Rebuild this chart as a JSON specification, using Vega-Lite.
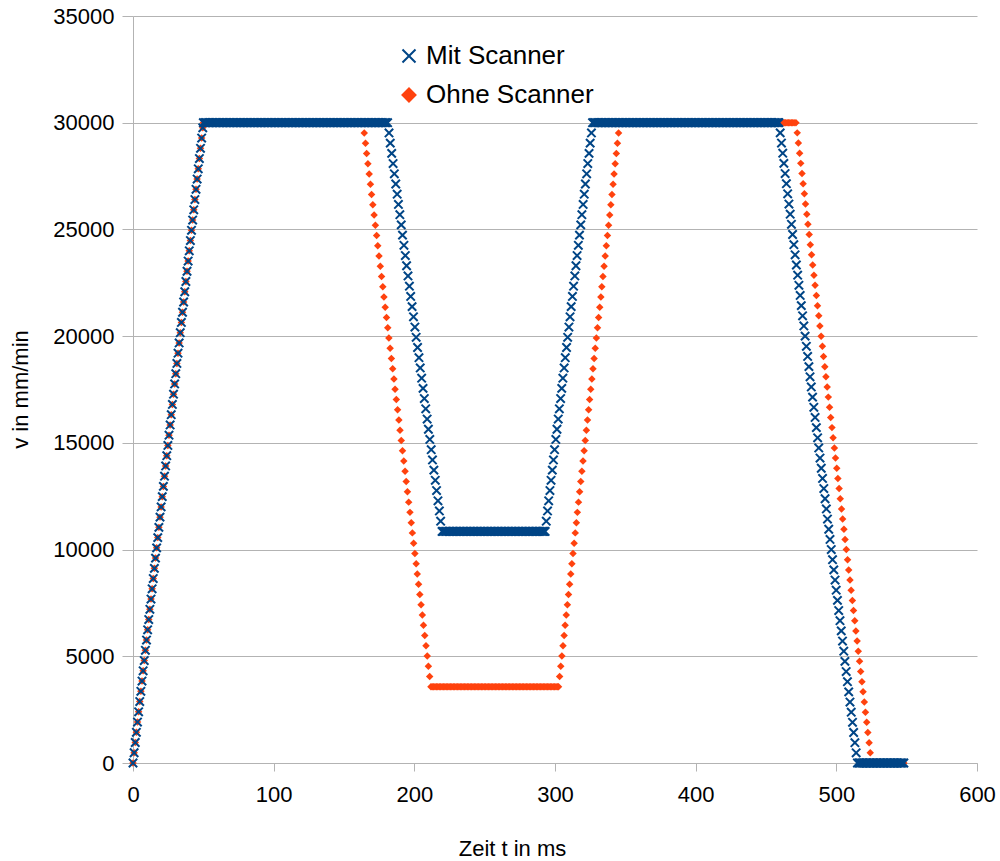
{
"$schema":"https://vega.github.io/schema/vega-lite/v6.json",
"width":844,"height":747,
"autosize":{"type":"none"},
"padding":{"left":133,"top":16,"right":23,"bottom":98},
"background":"white",
"config":{"font":"Liberation Sans","view":{"stroke":null}},
"datasets":{
"common":[{"t":0,"v":0},{"t":0.8,"v":480},{"t":1.6,"v":960},{"t":2.4,"v":1440},{"t":3.2,"v":1920},{"t":4,"v":2400},{"t":4.8,"v":2880},{"t":5.6,"v":3360},{"t":6.4,"v":3840},{"t":7.2,"v":4320},{"t":8,"v":4800},{"t":8.8,"v":5280},{"t":9.6,"v":5760},{"t":10.4,"v":6240},{"t":11.2,"v":6720},{"t":12,"v":7200},{"t":12.8,"v":7680},{"t":13.6,"v":8160},{"t":14.4,"v":8640},{"t":15.2,"v":9120},{"t":16,"v":9600},{"t":16.8,"v":10080},{"t":17.6,"v":10560},{"t":18.4,"v":11040},{"t":19.2,"v":11520},{"t":20,"v":12000},{"t":20.8,"v":12480},{"t":21.6,"v":12960},{"t":22.4,"v":13440},{"t":23.2,"v":13920},{"t":24,"v":14400},{"t":24.8,"v":14880},{"t":25.6,"v":15360},{"t":26.4,"v":15840},{"t":27.2,"v":16320},{"t":28,"v":16800},{"t":28.8,"v":17280},{"t":29.6,"v":17760},{"t":30.4,"v":18240},{"t":31.2,"v":18720},{"t":32,"v":19200},{"t":32.8,"v":19680},{"t":33.6,"v":20160},{"t":34.4,"v":20640},{"t":35.2,"v":21120},{"t":36,"v":21600},{"t":36.8,"v":22080},{"t":37.6,"v":22560},{"t":38.4,"v":23040},{"t":39.2,"v":23520},{"t":40,"v":24000},{"t":40.8,"v":24480},{"t":41.6,"v":24960},{"t":42.4,"v":25440},{"t":43.2,"v":25920},{"t":44,"v":26400},{"t":44.8,"v":26880},{"t":45.6,"v":27360},{"t":46.4,"v":27840},{"t":47.2,"v":28320},{"t":48,"v":28800},{"t":48.8,"v":29280},{"t":49.6,"v":29760},
{"t":50,"v":30000},{"t":51,"v":30000},{"t":52,"v":30000},{"t":53,"v":30000},{"t":54,"v":30000},{"t":55,"v":30000},{"t":56,"v":30000},{"t":57,"v":30000},{"t":58,"v":30000},{"t":59,"v":30000},{"t":60,"v":30000},{"t":61,"v":30000},{"t":62,"v":30000},{"t":63,"v":30000},{"t":64,"v":30000},{"t":65,"v":30000},{"t":66,"v":30000},{"t":67,"v":30000},{"t":68,"v":30000},{"t":69,"v":30000},{"t":70,"v":30000},{"t":71,"v":30000},{"t":72,"v":30000},{"t":73,"v":30000},{"t":74,"v":30000},{"t":75,"v":30000},{"t":76,"v":30000},{"t":77,"v":30000},{"t":78,"v":30000},{"t":79,"v":30000},{"t":80,"v":30000},{"t":81,"v":30000},{"t":82,"v":30000},{"t":83,"v":30000},{"t":84,"v":30000},{"t":85,"v":30000},{"t":86,"v":30000},{"t":87,"v":30000},{"t":88,"v":30000},{"t":89,"v":30000},{"t":90,"v":30000},{"t":91,"v":30000},{"t":92,"v":30000},{"t":93,"v":30000},{"t":94,"v":30000},{"t":95,"v":30000},{"t":96,"v":30000},{"t":97,"v":30000},{"t":98,"v":30000},{"t":99,"v":30000},{"t":100,"v":30000},{"t":101,"v":30000},{"t":102,"v":30000},{"t":103,"v":30000},{"t":104,"v":30000},{"t":105,"v":30000},{"t":106,"v":30000},{"t":107,"v":30000},{"t":108,"v":30000},{"t":109,"v":30000},{"t":110,"v":30000},{"t":111,"v":30000},{"t":112,"v":30000},{"t":113,"v":30000},{"t":114,"v":30000},{"t":115,"v":30000},{"t":116,"v":30000},{"t":117,"v":30000},{"t":118,"v":30000},{"t":119,"v":30000},{"t":120,"v":30000},{"t":121,"v":30000},{"t":122,"v":30000},{"t":123,"v":30000},{"t":124,"v":30000},{"t":125,"v":30000},{"t":126,"v":30000},{"t":127,"v":30000},{"t":128,"v":30000},{"t":129,"v":30000},{"t":130,"v":30000},{"t":131,"v":30000},{"t":132,"v":30000},{"t":133,"v":30000},{"t":134,"v":30000},{"t":135,"v":30000},{"t":136,"v":30000},{"t":137,"v":30000},{"t":138,"v":30000},{"t":139,"v":30000},{"t":140,"v":30000},{"t":141,"v":30000},{"t":142,"v":30000},{"t":143,"v":30000},{"t":144,"v":30000},{"t":145,"v":30000},{"t":146,"v":30000},{"t":147,"v":30000},{"t":148,"v":30000},{"t":149,"v":30000},{"t":150,"v":30000},{"t":151,"v":30000},{"t":152,"v":30000},{"t":153,"v":30000},{"t":154,"v":30000},{"t":155,"v":30000},{"t":156,"v":30000},{"t":157,"v":30000},{"t":158,"v":30000},{"t":159,"v":30000},{"t":160,"v":30000},{"t":161,"v":30000},{"t":162,"v":30000}],
"mit":[{"t":163,"v":30000},{"t":164,"v":30000},{"t":165,"v":30000},{"t":166,"v":30000},{"t":167,"v":30000},{"t":168,"v":30000},{"t":169,"v":30000},{"t":170,"v":30000},{"t":171,"v":30000},{"t":172,"v":30000},{"t":173,"v":30000},{"t":174,"v":30000},{"t":175,"v":30000},{"t":176,"v":30000},{"t":177,"v":30000},{"t":178,"v":30000},{"t":179,"v":30000},{"t":180,"v":30000},{"t":181,"v":30000},
{"t":182,"v":29521},{"t":182.9,"v":29043},{"t":183.9,"v":28564},{"t":184.9,"v":28085},{"t":185.8,"v":27606},{"t":186.8,"v":27128},{"t":187.8,"v":26649},{"t":188.7,"v":26170},{"t":189.7,"v":25691},{"t":190.7,"v":25213},{"t":191.6,"v":24734},{"t":192.6,"v":24255},{"t":193.6,"v":23776},{"t":194.5,"v":23298},{"t":195.5,"v":22819},{"t":196.5,"v":22340},{"t":197.4,"v":21861},{"t":198.4,"v":21383},{"t":199.4,"v":20904},{"t":200.4,"v":20425},{"t":201.3,"v":19946},{"t":202.3,"v":19468},{"t":203.3,"v":18989},{"t":204.2,"v":18510},{"t":205.2,"v":18031},{"t":206.2,"v":17553},{"t":207.1,"v":17074},{"t":208.1,"v":16595},{"t":209.1,"v":16116},{"t":210,"v":15638},{"t":211,"v":15159},{"t":212,"v":14680},{"t":212.9,"v":14201},{"t":213.9,"v":13723},{"t":214.9,"v":13244},{"t":215.8,"v":12765},{"t":216.8,"v":12286},{"t":217.8,"v":11808},{"t":218.7,"v":11329},
{"t":219.7,"v":10850},{"t":220.5,"v":10850},{"t":221.5,"v":10850},{"t":222.5,"v":10850},{"t":223.5,"v":10850},{"t":224.5,"v":10850},{"t":225.5,"v":10850},{"t":226.5,"v":10850},{"t":227.5,"v":10850},{"t":228.5,"v":10850},{"t":229.5,"v":10850},{"t":230.5,"v":10850},{"t":231.5,"v":10850},{"t":232.5,"v":10850},{"t":233.5,"v":10850},{"t":234.5,"v":10850},{"t":235.5,"v":10850},{"t":236.5,"v":10850},{"t":237.5,"v":10850},{"t":238.5,"v":10850},{"t":239.5,"v":10850},{"t":240.5,"v":10850},{"t":241.5,"v":10850},{"t":242.5,"v":10850},{"t":243.5,"v":10850},{"t":244.5,"v":10850},{"t":245.5,"v":10850},{"t":246.5,"v":10850},{"t":247.5,"v":10850},{"t":248.5,"v":10850},{"t":249.5,"v":10850},{"t":250.5,"v":10850},{"t":251.5,"v":10850},{"t":252.5,"v":10850},{"t":253.5,"v":10850},{"t":254.5,"v":10850},{"t":255.5,"v":10850},{"t":256.5,"v":10850},{"t":257.5,"v":10850},{"t":258.5,"v":10850},{"t":259.5,"v":10850},{"t":260.5,"v":10850},{"t":261.5,"v":10850},{"t":262.5,"v":10850},{"t":263.5,"v":10850},{"t":264.5,"v":10850},{"t":265.5,"v":10850},{"t":266.5,"v":10850},{"t":267.5,"v":10850},{"t":268.5,"v":10850},{"t":269.5,"v":10850},{"t":270.5,"v":10850},{"t":271.5,"v":10850},{"t":272.5,"v":10850},{"t":273.5,"v":10850},{"t":274.5,"v":10850},{"t":275.5,"v":10850},{"t":276.5,"v":10850},{"t":277.5,"v":10850},{"t":278.5,"v":10850},{"t":279.5,"v":10850},{"t":280.5,"v":10850},{"t":281.5,"v":10850},{"t":282.5,"v":10850},{"t":283.5,"v":10850},{"t":284.5,"v":10850},{"t":285.5,"v":10850},{"t":286.5,"v":10850},{"t":287.5,"v":10850},{"t":288.5,"v":10850},{"t":289.5,"v":10850},{"t":290.5,"v":10850},{"t":291.5,"v":10850},{"t":292.3,"v":10850},{"t":293,"v":10850},
{"t":293.8,"v":11329},{"t":294.7,"v":11808},{"t":295.5,"v":12286},{"t":296.4,"v":12765},{"t":297.2,"v":13244},{"t":298.1,"v":13723},{"t":298.9,"v":14201},{"t":299.7,"v":14680},{"t":300.6,"v":15159},{"t":301.4,"v":15638},{"t":302.3,"v":16116},{"t":303.1,"v":16595},{"t":304,"v":17074},{"t":304.8,"v":17553},{"t":305.6,"v":18031},{"t":306.5,"v":18510},{"t":307.3,"v":18989},{"t":308.2,"v":19468},{"t":309,"v":19946},{"t":309.9,"v":20425},{"t":310.7,"v":20904},{"t":311.5,"v":21383},{"t":312.4,"v":21861},{"t":313.2,"v":22340},{"t":314.1,"v":22819},{"t":314.9,"v":23298},{"t":315.7,"v":23776},{"t":316.6,"v":24255},{"t":317.4,"v":24734},{"t":318.3,"v":25213},{"t":319.1,"v":25691},{"t":320,"v":26170},{"t":320.8,"v":26649},{"t":321.6,"v":27128},{"t":322.5,"v":27606},{"t":323.3,"v":28085},{"t":324.2,"v":28564},{"t":325,"v":29043},{"t":325.9,"v":29521},
{"t":326.7,"v":30000},{"t":327.5,"v":30000},{"t":328.5,"v":30000},{"t":329.5,"v":30000},{"t":330.5,"v":30000},{"t":331.5,"v":30000},{"t":332.5,"v":30000},{"t":333.5,"v":30000},{"t":334.5,"v":30000},{"t":335.5,"v":30000},{"t":336.5,"v":30000},{"t":337.5,"v":30000},{"t":338.5,"v":30000},{"t":339.5,"v":30000},{"t":340.5,"v":30000},{"t":341.5,"v":30000},{"t":342.5,"v":30000},{"t":343.5,"v":30000},{"t":344.5,"v":30000},{"t":345.5,"v":30000},{"t":346.5,"v":30000},{"t":347.5,"v":30000},{"t":348.5,"v":30000},{"t":349.5,"v":30000},{"t":350.5,"v":30000},{"t":351.5,"v":30000},{"t":352.5,"v":30000},{"t":353.5,"v":30000},{"t":354.5,"v":30000},{"t":355.5,"v":30000},{"t":356.5,"v":30000},{"t":357.5,"v":30000},{"t":358.5,"v":30000},{"t":359.5,"v":30000},{"t":360.5,"v":30000},{"t":361.5,"v":30000},{"t":362.5,"v":30000},{"t":363.5,"v":30000},{"t":364.5,"v":30000},{"t":365.5,"v":30000},{"t":366.5,"v":30000},{"t":367.5,"v":30000},{"t":368.5,"v":30000},{"t":369.5,"v":30000},{"t":370.5,"v":30000},{"t":371.5,"v":30000},{"t":372.5,"v":30000},{"t":373.5,"v":30000},{"t":374.5,"v":30000},{"t":375.5,"v":30000},{"t":376.5,"v":30000},{"t":377.5,"v":30000},{"t":378.5,"v":30000},{"t":379.5,"v":30000},{"t":380.5,"v":30000},{"t":381.5,"v":30000},{"t":382.5,"v":30000},{"t":383.5,"v":30000},{"t":384.5,"v":30000},{"t":385.5,"v":30000},{"t":386.5,"v":30000},{"t":387.5,"v":30000},{"t":388.5,"v":30000},{"t":389.5,"v":30000},{"t":390.5,"v":30000},{"t":391.5,"v":30000},{"t":392.5,"v":30000},{"t":393.5,"v":30000},{"t":394.5,"v":30000},{"t":395.5,"v":30000},{"t":396.5,"v":30000},{"t":397.5,"v":30000},{"t":398.5,"v":30000},{"t":399.5,"v":30000},{"t":400.5,"v":30000},{"t":401.5,"v":30000},{"t":402.5,"v":30000},{"t":403.5,"v":30000},{"t":404.5,"v":30000},{"t":405.5,"v":30000},{"t":406.5,"v":30000},{"t":407.5,"v":30000},{"t":408.5,"v":30000},{"t":409.5,"v":30000},{"t":410.5,"v":30000},{"t":411.5,"v":30000},{"t":412.5,"v":30000},{"t":413.5,"v":30000},{"t":414.5,"v":30000},{"t":415.5,"v":30000},{"t":416.5,"v":30000},{"t":417.5,"v":30000},{"t":418.5,"v":30000},{"t":419.5,"v":30000},{"t":420.5,"v":30000},{"t":421.5,"v":30000},{"t":422.5,"v":30000},{"t":423.5,"v":30000},{"t":424.5,"v":30000},{"t":425.5,"v":30000},{"t":426.5,"v":30000},{"t":427.5,"v":30000},{"t":428.5,"v":30000},{"t":429.5,"v":30000},{"t":430.5,"v":30000},{"t":431.5,"v":30000},{"t":432.5,"v":30000},{"t":433.5,"v":30000},{"t":434.5,"v":30000},{"t":435.5,"v":30000},{"t":436.5,"v":30000},{"t":437.5,"v":30000},{"t":438.5,"v":30000},{"t":439.5,"v":30000},{"t":440.5,"v":30000},{"t":441.5,"v":30000},{"t":442.5,"v":30000},{"t":443.5,"v":30000},{"t":444.5,"v":30000},{"t":445.5,"v":30000},{"t":446.5,"v":30000},{"t":447.5,"v":30000},{"t":448.5,"v":30000},{"t":449.5,"v":30000},{"t":450.5,"v":30000},{"t":451.5,"v":30000},{"t":452.5,"v":30000},{"t":453.5,"v":30000},{"t":454.5,"v":30000},{"t":455.5,"v":30000},{"t":456.5,"v":30000},{"t":457.5,"v":30000},{"t":458.5,"v":30000},{"t":459.2,"v":30000},
{"t":460.1,"v":29524},{"t":461,"v":29048},{"t":461.9,"v":28571},{"t":462.7,"v":28095},{"t":463.6,"v":27619},{"t":464.5,"v":27143},{"t":465.4,"v":26667},{"t":466.3,"v":26190},{"t":467.2,"v":25714},{"t":468.1,"v":25238},{"t":468.9,"v":24762},{"t":469.8,"v":24286},{"t":470.7,"v":23810},{"t":471.6,"v":23333},{"t":472.5,"v":22857},{"t":473.4,"v":22381},{"t":474.3,"v":21905},{"t":475.1,"v":21429},{"t":476,"v":20952},{"t":476.9,"v":20476},{"t":477.8,"v":20000},{"t":478.7,"v":19524},{"t":479.6,"v":19048},{"t":480.5,"v":18571},{"t":481.3,"v":18095},{"t":482.2,"v":17619},{"t":483.1,"v":17143},{"t":484,"v":16667},{"t":484.9,"v":16190},{"t":485.8,"v":15714},{"t":486.7,"v":15238},{"t":487.5,"v":14762},{"t":488.4,"v":14286},{"t":489.3,"v":13810},{"t":490.2,"v":13333},{"t":491.1,"v":12857},{"t":492,"v":12381},{"t":492.9,"v":11905},{"t":493.7,"v":11429},{"t":494.6,"v":10952},{"t":495.5,"v":10476},{"t":496.4,"v":10000},{"t":497.3,"v":9524},{"t":498.2,"v":9048},{"t":499.1,"v":8571},{"t":499.9,"v":8095},{"t":500.8,"v":7619},{"t":501.7,"v":7143},{"t":502.6,"v":6667},{"t":503.5,"v":6190},{"t":504.4,"v":5714},{"t":505.3,"v":5238},{"t":506.1,"v":4762},{"t":507,"v":4286},{"t":507.9,"v":3810},{"t":508.8,"v":3333},{"t":509.7,"v":2857},{"t":510.6,"v":2381},{"t":511.5,"v":1905},{"t":512.3,"v":1429},{"t":513.2,"v":952},{"t":514.1,"v":476},
{"t":515,"v":0},{"t":516,"v":0},{"t":517,"v":0},{"t":518,"v":0},{"t":519,"v":0},{"t":520,"v":0},{"t":521,"v":0},{"t":522,"v":0},{"t":523,"v":0},{"t":524,"v":0},{"t":525,"v":0},{"t":526,"v":0},{"t":527,"v":0},{"t":528,"v":0},{"t":529,"v":0},{"t":530,"v":0},{"t":531,"v":0},{"t":532,"v":0},{"t":533,"v":0},{"t":534,"v":0},{"t":535,"v":0},{"t":536,"v":0},{"t":537,"v":0},{"t":538,"v":0},{"t":539,"v":0},{"t":540,"v":0},{"t":541,"v":0},{"t":542,"v":0},{"t":543,"v":0},{"t":544,"v":0},{"t":545,"v":0},{"t":546,"v":0},{"t":547,"v":0},{"t":548,"v":0}],
"ohne":[{"t":163,"v":30000},{"t":163.5,"v":30000},
{"t":164.4,"v":29520},{"t":165.3,"v":29039},{"t":166.1,"v":28559},{"t":167,"v":28078},{"t":167.9,"v":27598},{"t":168.8,"v":27117},{"t":169.6,"v":26637},{"t":170.5,"v":26156},{"t":171.4,"v":25676},{"t":172.3,"v":25195},{"t":173.2,"v":24715},{"t":174,"v":24235},{"t":174.9,"v":23754},{"t":175.8,"v":23274},{"t":176.7,"v":22793},{"t":177.6,"v":22313},{"t":178.4,"v":21832},{"t":179.3,"v":21352},{"t":180.2,"v":20871},{"t":181.1,"v":20391},{"t":181.9,"v":19910},{"t":182.8,"v":19430},{"t":183.7,"v":18950},{"t":184.6,"v":18469},{"t":185.5,"v":17989},{"t":186.3,"v":17508},{"t":187.2,"v":17028},{"t":188.1,"v":16547},{"t":189,"v":16067},{"t":189.8,"v":15586},{"t":190.7,"v":15106},{"t":191.6,"v":14625},{"t":192.5,"v":14145},{"t":193.4,"v":13665},{"t":194.2,"v":13184},{"t":195.1,"v":12704},{"t":196,"v":12223},{"t":196.9,"v":11743},{"t":197.8,"v":11262},{"t":198.6,"v":10782},{"t":199.5,"v":10301},{"t":200.4,"v":9821},{"t":201.3,"v":9340},{"t":202.1,"v":8860},{"t":203,"v":8380},{"t":203.9,"v":7899},{"t":204.8,"v":7419},{"t":205.7,"v":6938},{"t":206.5,"v":6458},{"t":207.4,"v":5977},{"t":208.3,"v":5497},{"t":209.2,"v":5016},{"t":210,"v":4536},{"t":210.9,"v":4055},
{"t":211.8,"v":3575},{"t":212.7,"v":3575},{"t":213.7,"v":3575},{"t":214.7,"v":3575},{"t":215.7,"v":3575},{"t":216.7,"v":3575},{"t":217.7,"v":3575},{"t":218.7,"v":3575},{"t":219.7,"v":3575},{"t":220.7,"v":3575},{"t":221.7,"v":3575},{"t":222.7,"v":3575},{"t":223.7,"v":3575},{"t":224.7,"v":3575},{"t":225.7,"v":3575},{"t":226.7,"v":3575},{"t":227.7,"v":3575},{"t":228.7,"v":3575},{"t":229.7,"v":3575},{"t":230.7,"v":3575},{"t":231.7,"v":3575},{"t":232.7,"v":3575},{"t":233.7,"v":3575},{"t":234.7,"v":3575},{"t":235.7,"v":3575},{"t":236.7,"v":3575},{"t":237.7,"v":3575},{"t":238.7,"v":3575},{"t":239.7,"v":3575},{"t":240.7,"v":3575},{"t":241.7,"v":3575},{"t":242.7,"v":3575},{"t":243.7,"v":3575},{"t":244.7,"v":3575},{"t":245.7,"v":3575},{"t":246.7,"v":3575},{"t":247.7,"v":3575},{"t":248.7,"v":3575},{"t":249.7,"v":3575},{"t":250.7,"v":3575},{"t":251.7,"v":3575},{"t":252.7,"v":3575},{"t":253.7,"v":3575},{"t":254.7,"v":3575},{"t":255.7,"v":3575},{"t":256.7,"v":3575},{"t":257.7,"v":3575},{"t":258.7,"v":3575},{"t":259.7,"v":3575},{"t":260.7,"v":3575},{"t":261.7,"v":3575},{"t":262.7,"v":3575},{"t":263.7,"v":3575},{"t":264.7,"v":3575},{"t":265.7,"v":3575},{"t":266.7,"v":3575},{"t":267.7,"v":3575},{"t":268.7,"v":3575},{"t":269.7,"v":3575},{"t":270.7,"v":3575},{"t":271.7,"v":3575},{"t":272.7,"v":3575},{"t":273.7,"v":3575},{"t":274.7,"v":3575},{"t":275.7,"v":3575},{"t":276.7,"v":3575},{"t":277.7,"v":3575},{"t":278.7,"v":3575},{"t":279.7,"v":3575},{"t":280.7,"v":3575},{"t":281.7,"v":3575},{"t":282.7,"v":3575},{"t":283.7,"v":3575},{"t":284.7,"v":3575},{"t":285.7,"v":3575},{"t":286.7,"v":3575},{"t":287.7,"v":3575},{"t":288.7,"v":3575},{"t":289.7,"v":3575},{"t":290.7,"v":3575},{"t":291.7,"v":3575},{"t":292.7,"v":3575},{"t":293.7,"v":3575},{"t":294.7,"v":3575},{"t":295.7,"v":3575},{"t":296.7,"v":3575},{"t":297.7,"v":3575},{"t":298.7,"v":3575},{"t":299.7,"v":3575},{"t":300.7,"v":3575},{"t":301.7,"v":3575},{"t":302.5,"v":3575},
{"t":303.3,"v":4055},{"t":304.1,"v":4536},{"t":304.9,"v":5016},{"t":305.7,"v":5497},{"t":306.5,"v":5977},{"t":307.2,"v":6458},{"t":308,"v":6938},{"t":308.8,"v":7419},{"t":309.6,"v":7899},{"t":310.4,"v":8380},{"t":311.2,"v":8860},{"t":312,"v":9340},{"t":312.8,"v":9821},{"t":313.6,"v":10301},{"t":314.4,"v":10782},{"t":315.2,"v":11262},{"t":315.9,"v":11743},{"t":316.7,"v":12223},{"t":317.5,"v":12704},{"t":318.3,"v":13184},{"t":319.1,"v":13665},{"t":319.9,"v":14145},{"t":320.7,"v":14625},{"t":321.5,"v":15106},{"t":322.3,"v":15586},{"t":323.1,"v":16067},{"t":323.9,"v":16547},{"t":324.6,"v":17028},{"t":325.4,"v":17508},{"t":326.2,"v":17989},{"t":327,"v":18469},{"t":327.8,"v":18950},{"t":328.6,"v":19430},{"t":329.4,"v":19910},{"t":330.2,"v":20391},{"t":331,"v":20871},{"t":331.8,"v":21352},{"t":332.6,"v":21832},{"t":333.3,"v":22313},{"t":334.1,"v":22793},{"t":334.9,"v":23274},{"t":335.7,"v":23754},{"t":336.5,"v":24235},{"t":337.3,"v":24715},{"t":338.1,"v":25195},{"t":338.9,"v":25676},{"t":339.7,"v":26156},{"t":340.5,"v":26637},{"t":341.3,"v":27117},{"t":342,"v":27598},{"t":342.8,"v":28078},{"t":343.6,"v":28559},{"t":344.4,"v":29039},{"t":345.2,"v":29520},
{"t":346,"v":30000},{"t":347,"v":30000},{"t":348,"v":30000},{"t":349,"v":30000},{"t":350,"v":30000},{"t":351,"v":30000},{"t":352,"v":30000},{"t":353,"v":30000},{"t":354,"v":30000},{"t":355,"v":30000},{"t":356,"v":30000},{"t":357,"v":30000},{"t":358,"v":30000},{"t":359,"v":30000},{"t":360,"v":30000},{"t":361,"v":30000},{"t":362,"v":30000},{"t":363,"v":30000},{"t":364,"v":30000},{"t":365,"v":30000},{"t":366,"v":30000},{"t":367,"v":30000},{"t":368,"v":30000},{"t":369,"v":30000},{"t":370,"v":30000},{"t":380,"v":30000},{"t":390,"v":30000},{"t":400,"v":30000},{"t":410,"v":30000},{"t":420,"v":30000},{"t":430,"v":30000},{"t":440,"v":30000},{"t":450,"v":30000},{"t":455,"v":30000},{"t":456,"v":30000},{"t":457,"v":30000},{"t":458,"v":30000},{"t":459,"v":30000},{"t":460,"v":30000},{"t":461,"v":30000},{"t":462,"v":30000},{"t":463,"v":30000},{"t":464,"v":30000},{"t":465,"v":30000},{"t":466,"v":30000},{"t":467,"v":30000},{"t":468,"v":30000},{"t":469,"v":30000},{"t":470,"v":30000},{"t":471.3,"v":30000},
{"t":472.2,"v":29524},{"t":473,"v":29048},{"t":473.9,"v":28571},{"t":474.7,"v":28095},{"t":475.6,"v":27619},{"t":476.4,"v":27143},{"t":477.3,"v":26667},{"t":478.1,"v":26190},{"t":479,"v":25714},{"t":479.8,"v":25238},{"t":480.7,"v":24762},{"t":481.5,"v":24286},{"t":482.4,"v":23810},{"t":483.2,"v":23333},{"t":484.1,"v":22857},{"t":484.9,"v":22381},{"t":485.8,"v":21905},{"t":486.6,"v":21429},{"t":487.5,"v":20952},{"t":488.3,"v":20476},{"t":489.2,"v":20000},{"t":490.1,"v":19524},{"t":490.9,"v":19048},{"t":491.8,"v":18571},{"t":492.6,"v":18095},{"t":493.5,"v":17619},{"t":494.3,"v":17143},{"t":495.2,"v":16667},{"t":496,"v":16190},{"t":496.9,"v":15714},{"t":497.7,"v":15238},{"t":498.6,"v":14762},{"t":499.4,"v":14286},{"t":500.3,"v":13810},{"t":501.1,"v":13333},{"t":502,"v":12857},{"t":502.8,"v":12381},{"t":503.7,"v":11905},{"t":504.5,"v":11429},{"t":505.4,"v":10952},{"t":506.2,"v":10476},{"t":507.1,"v":10000},{"t":508,"v":9524},{"t":508.8,"v":9048},{"t":509.7,"v":8571},{"t":510.5,"v":8095},{"t":511.4,"v":7619},{"t":512.2,"v":7143},{"t":513.1,"v":6667},{"t":513.9,"v":6190},{"t":514.8,"v":5714},{"t":515.6,"v":5238},{"t":516.5,"v":4762},{"t":517.3,"v":4286},{"t":518.2,"v":3810},{"t":519,"v":3333},{"t":519.9,"v":2857},{"t":520.7,"v":2381},{"t":521.6,"v":1905},{"t":522.4,"v":1429},{"t":523.3,"v":952},{"t":524.1,"v":476},
{"t":525,"v":0},{"t":530,"v":0},{"t":535,"v":0},{"t":540,"v":0},{"t":545,"v":0},{"t":546,"v":0},{"t":547,"v":0},{"t":548,"v":0}]
},
"encoding":{
"x":{"field":"t","type":"quantitative","scale":{"domain":[0,600],"nice":false,"zero":false},
"axis":{"values":[0,100,200,300,400,500,600],"grid":false,"title":"Zeit t in ms","titleFontSize":22,"titleFontWeight":"normal","titleColor":"#000","titleX":379,"titleY":85,"titleBaseline":"middle","labelFontSize":22,"labelColor":"#000","labelPadding":13,"labelFlush":false,"tickSize":8,"tickColor":"#b3b3b3","domainColor":"#b3b3b3"}},
"y":{"field":"v","type":"quantitative","scale":{"domain":[0,35000],"nice":false},
"axis":{"values":[0,5000,10000,15000,20000,25000,30000,35000],"format":"d","grid":true,"gridColor":"#b3b3b3","title":"v in mm/min","titleFontSize":22,"titleFontWeight":"normal","titleColor":"#000","titleX":-113,"titleY":373,"titleBaseline":"middle","labelFontSize":22,"labelColor":"#000","labelPadding":8,"tickSize":11,"tickColor":"#b3b3b3","domainColor":"#b3b3b3"}}
},
"layer":[
{"data":{"name":"common"},"mark":{"type":"point","filled":true,"size":56,"opacity":1},
"encoding":{"color":{"datum":"Ohne Scanner","type":"nominal","scale":{"domain":["Mit Scanner","Ohne Scanner"],"range":["#004586","#ff420e"]},
"legend":{"title":null,"orient":"none","legendX":263,"legendY":27,"labelFontSize":26,"labelLimit":500,"labelColor":"#000","symbolSize":170,"symbolStrokeWidth":2,"rowPadding":13,"labelOffset":4,
"encode":{"symbols":{"update":{"fill":{"scale":"color","field":"value"},"stroke":{"scale":"color","field":"value"},"strokeWidth":{"value":2},"opacity":{"value":1}}}}}},
"shape":{"datum":"Ohne Scanner","type":"nominal","scale":{"domain":["Mit Scanner","Ohne Scanner"],"range":["M-1,-1L1,1M-1,1L1,-1","diamond"]}}}},
{"data":{"name":"ohne"},"mark":{"type":"point","filled":true,"size":56,"opacity":1},
"encoding":{"color":{"datum":"Ohne Scanner","type":"nominal"},"shape":{"datum":"Ohne Scanner","type":"nominal"}}},
{"data":{"name":"common"},"mark":{"type":"point","filled":false,"size":70,"strokeWidth":2,"opacity":1},
"encoding":{"color":{"datum":"Mit Scanner","type":"nominal"},"shape":{"datum":"Mit Scanner","type":"nominal"}}},
{"data":{"name":"mit"},"mark":{"type":"point","filled":false,"size":70,"strokeWidth":2,"opacity":1},
"encoding":{"color":{"datum":"Mit Scanner","type":"nominal"},"shape":{"datum":"Mit Scanner","type":"nominal"}}}
]
}
